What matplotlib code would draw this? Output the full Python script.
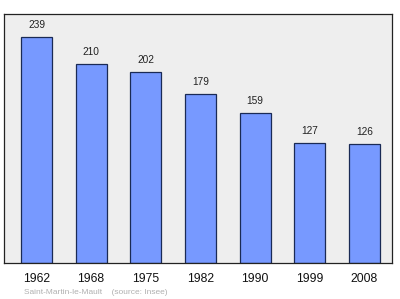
import matplotlib
matplotlib.use("Agg")
import matplotlib.pyplot as plt

years = ["1962", "1968", "1975", "1982", "1990", "1999", "2008"]
population = [239, 210, 202, 179, 159, 127, 126]

fig = plt.figure(figsize=(4.0, 2.99), dpi=100)
W, H = 400, 299
ax = fig.add_axes([4 / W, 1 - 263 / H, 388 / W, (263 - 14) / H])
ax.set_facecolor("#eeeeee")
x = list(range(len(years)))
ax.bar(x, population, width=0.567, color="#7799ff", edgecolor="#1a2a55", linewidth=0.9, zorder=2)
for xi, v in zip(x, population):
    ax.text(xi, v + 7.5, str(v), ha="center", va="bottom", fontsize=7.3, color="#222222",
            family="Liberation Sans")
ax.set_xlim(-0.594, 6.503)
ax.set_ylim(0, 263.3)
ax.set_yticks([])
ax.set_xticks(x)
ax.set_xticklabels(years, fontsize=8.8, family="Liberation Sans", color="#111111")
ax.tick_params(axis="x", length=0, pad=7)
for s in ax.spines.values():
    s.set_color("#222222")
    s.set_linewidth(0.9)
fig.text(24 / W, 1 - 292 / H, "Saint-Martin-le-Mault    (source: Insee)", fontsize=6,
         color="#b0b0b0", ha="left", va="center", family="Liberation Sans")
fig.savefig("out.png", dpi=100)
